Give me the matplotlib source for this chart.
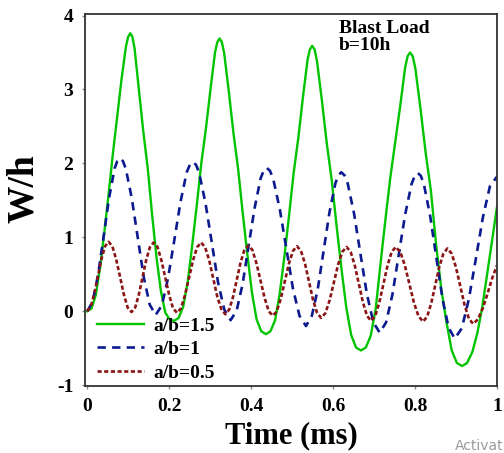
import matplotlib
matplotlib.use("Agg")
import matplotlib.pyplot as plt

# --- data (time in ms, W/h) ---
t_green = [0, 0.0105, 0.021, 0.0315, 0.042, 0.0525, 0.063, 0.0735, 0.084, 0.0945, 0.0998, 0.105,
           0.1104, 0.1157, 0.1264, 0.1371, 0.1478, 0.1585, 0.1692, 0.1799, 0.1906, 0.2013, 0.212,
           0.2231, 0.2342, 0.2453, 0.2564, 0.2675, 0.2786, 0.2897, 0.3008, 0.3119, 0.3175, 0.323,
           0.3286, 0.3343, 0.3456, 0.3569, 0.3682, 0.3795, 0.3908, 0.4021, 0.4134, 0.4247, 0.436,
           0.4473, 0.4586, 0.4699, 0.4812, 0.4925, 0.5038, 0.5151, 0.5264, 0.5377, 0.5434, 0.549,
           0.555, 0.5609, 0.5728, 0.5847, 0.5966, 0.6085, 0.6204, 0.6323, 0.6442, 0.6561, 0.668,
           0.680, 0.692, 0.704, 0.716, 0.728, 0.740, 0.752, 0.764, 0.776, 0.782, 0.788,
           0.7944, 0.8007, 0.8134, 0.8261, 0.8388, 0.8515, 0.8642, 0.8769, 0.8896, 0.9023, 0.915,
           0.927, 0.940, 0.952, 0.964, 0.976, 0.988, 1.0]
w_green = [0, 0.04, 0.22, 0.6, 1.08, 1.6, 2.15, 2.65, 3.15, 3.58, 3.71, 3.76,
           3.71, 3.55, 2.98, 2.42, 1.93, 1.30, 0.72, 0.27, -0.02, -0.11, -0.13,
           -0.09, 0.06, 0.40, 0.90, 1.44, 2.01, 2.47, 3.00, 3.50, 3.64, 3.69,
           3.64, 3.49, 2.97, 2.41, 1.93, 1.33, 0.77, 0.25, -0.11, -0.27, -0.31,
           -0.27, -0.12, 0.24, 0.74, 1.29, 1.87, 2.34, 2.89, 3.40, 3.54, 3.59,
           3.54, 3.38, 2.85, 2.27, 1.78, 1.16, 0.58, 0.05, -0.32, -0.49, -0.53,
           -0.49, -0.33, 0.03, 0.65, 1.25, 1.82, 2.30, 2.78, 3.30, 3.45, 3.50,
           3.45, 3.29, 2.74, 2.14, 1.63, 0.90, 0.30, -0.15, -0.53, -0.70, -0.74,
           -0.70, -0.55, -0.30, 0.05, 0.5, 0.95, 1.41]

t_blue = [0, 0.0133, 0.0267, 0.04, 0.0533, 0.0667, 0.0733, 0.080,
          0.0873, 0.0945, 0.109, 0.1235, 0.138, 0.1525, 0.167,
          0.1822, 0.1973, 0.2125, 0.2277, 0.2428, 0.2504, 0.258,
          0.2657, 0.2733, 0.2887, 0.304, 0.3193, 0.3347, 0.35,
          0.3647, 0.3793, 0.394, 0.4087, 0.4233, 0.4307, 0.438,
          0.446, 0.454, 0.470, 0.486, 0.502, 0.518, 0.534,
          0.5483, 0.5627, 0.577, 0.5913, 0.6057, 0.6128, 0.620,
          0.6278, 0.6357, 0.6513, 0.667, 0.6827, 0.6983, 0.714,
          0.7295, 0.745, 0.7605, 0.776, 0.7915, 0.7993, 0.807,
          0.8145, 0.822, 0.837, 0.852, 0.867, 0.882, 0.897,
          0.9142, 0.9313, 0.9485, 0.9657, 0.9828, 1.0]
w_blue = [0, 0.13, 0.50, 1.01, 1.53, 1.93, 2.03, 2.07,
          2.03, 1.92, 1.52, 0.99, 0.46, 0.09, -0.05,
          0.08, 0.45, 0.96, 1.48, 1.88, 1.98, 2.02,
          1.98, 1.87, 1.46, 0.93, 0.39, 0.02, -0.12,
          0.01, 0.37, 0.89, 1.40, 1.80, 1.90, 1.94,
          1.90, 1.79, 1.38, 0.85, 0.31, -0.06, -0.20,
          -0.06, 0.30, 0.82, 1.34, 1.73, 1.84, 1.88,
          1.84, 1.73, 1.32, 0.77, 0.23, -0.15, -0.29,
          -0.15, 0.23, 0.77, 1.31, 1.72, 1.83, 1.87,
          1.83, 1.71, 1.29, 0.73, 0.17, -0.22, -0.37,
          -0.23, 0.16, 0.71, 1.27, 1.69, 1.82]

t_red = [0, 0.0087, 0.0173, 0.026, 0.0347, 0.0433, 0.052,
         0.0613, 0.0707, 0.080, 0.0893, 0.0987, 0.108,
         0.117, 0.126, 0.135, 0.144, 0.153, 0.162,
         0.1715, 0.181, 0.1905, 0.200, 0.2095, 0.219,
         0.2288, 0.2387, 0.2485, 0.2583, 0.2682, 0.278,
         0.2878, 0.2977, 0.3075, 0.3173, 0.3272, 0.337,
         0.3463, 0.3557, 0.365, 0.3743, 0.3837, 0.393,
         0.403, 0.413, 0.423, 0.433, 0.443, 0.453,
         0.4628, 0.4727, 0.4825, 0.4923, 0.5022, 0.512,
         0.5218, 0.5317, 0.5415, 0.5513, 0.5612, 0.571,
         0.5813, 0.5917, 0.602, 0.6123, 0.6227, 0.633,
         0.643, 0.653, 0.663, 0.673, 0.683, 0.693,
         0.703, 0.713, 0.723, 0.733, 0.743, 0.753,
         0.7642, 0.7753, 0.7865, 0.7977, 0.8088, 0.820,
         0.8298, 0.8397, 0.8495, 0.8593, 0.8692, 0.879,
         0.8895, 0.900, 0.9105, 0.921, 0.9315, 0.942,
         0.9533, 0.9647, 0.976, 0.9873, 1.0]
w_red = [0, 0.063, 0.235, 0.47, 0.705, 0.877, 0.94,
         0.88, 0.70, 0.47, 0.23, 0.05, -0.01,
         0.05, 0.225, 0.46, 0.695, 0.867, 0.93,
         0.87, 0.69, 0.455, 0.22, 0.04, -0.02,
         0.04, 0.22, 0.455, 0.69, 0.866, 0.93,
         0.865, 0.69, 0.445, 0.20, 0.03, -0.04,
         0.02, 0.19, 0.425, 0.66, 0.83, 0.89,
         0.83, 0.65, 0.415, 0.18, 0.0, -0.06,
         0.0, 0.175, 0.41, 0.645, 0.817, 0.88,
         0.815, 0.64, 0.395, 0.15, -0.025, -0.09,
         -0.025, 0.15, 0.39, 0.63, 0.805, 0.87,
         0.803, 0.62, 0.37, 0.12, -0.063, -0.13,
         -0.063, 0.12, 0.37, 0.62, 0.803, 0.87,
         0.80, 0.62, 0.365, 0.11, -0.07, -0.14,
         -0.07, 0.11, 0.355, 0.60, 0.78, 0.85,
         0.78, 0.595, 0.34, 0.085, -0.10, -0.17,
         -0.11, 0.03, 0.22, 0.43, 0.62]

labels = ["a/b=1.5", "a/b=1", "a/b=0.5"]
xticks = [0, 0.2, 0.4, 0.6, 0.8, 1]
xticklabels = ["0", "0.2", "0.4", "0.6", "0.8", "1"]
yticks = [-1, 0, 1, 2, 3, 4]

plt.rcParams["font.family"] = "Liberation Serif"
plt.rcParams["font.weight"] = "bold"
plt.rcParams["axes.unicode_minus"] = False
plt.rcParams["lines.scale_dashes"] = False

fig = plt.figure(figsize=(5.04, 4.53), dpi=100)
ax = fig.add_axes([0.169, 0.148, 0.817, 0.821])

ax.plot(t_green, w_green, color="#00c400", lw=1.7, label=labels[0])
ax.plot(t_blue, w_blue, color="#0c1a8f", lw=1.9, dashes=(6, 4.5), label=labels[1])
ax.plot(t_red, w_red, color="#8b1414", lw=1.9, dashes=(3, 1.8), label=labels[2])

ax.set_xlim(-0.005, 1.0)
ax.set_ylim(-1.01, 4.02)
ax.set_xticks(xticks)
ax.set_xticklabels(xticklabels)
ax.set_yticks(yticks)
ax.tick_params(direction="out", length=2.5, width=1, color="#888888",
               labelsize=14, pad=6)
for lab in ax.get_xticklabels() + ax.get_yticklabels():
    lab.set_fontweight("bold")
for sp in ax.spines.values():
    sp.set_color("#333333")
    sp.set_linewidth(1.3)

ax.set_xlabel("Time (ms)", fontsize=22, fontweight="bold", labelpad=5)
ax.set_ylabel("W/h", fontsize=27, fontweight="bold")
ax.yaxis.set_label_coords(-0.107, 0.53)

ax.text(0.617, 0.985, "Blast Load\nb=10h", transform=ax.transAxes,
        fontsize=14, fontweight="bold", va="top", ha="left", linespacing=1.05)

leg = ax.legend(loc="lower left", bbox_to_anchor=(0.0, -0.02), frameon=False,
                prop={"family": "Liberation Serif", "weight": "bold", "size": 14},
                handlelength=2.45, handletextpad=0.45, labelspacing=0.3,
                borderaxespad=0.2)

fig.text(455 / 504, 1 - 450 / 453, "Activat", fontsize=10,
         color="#9a9a9a", family="DejaVu Sans", fontweight="normal")

fig.savefig("out.png", dpi=100)
